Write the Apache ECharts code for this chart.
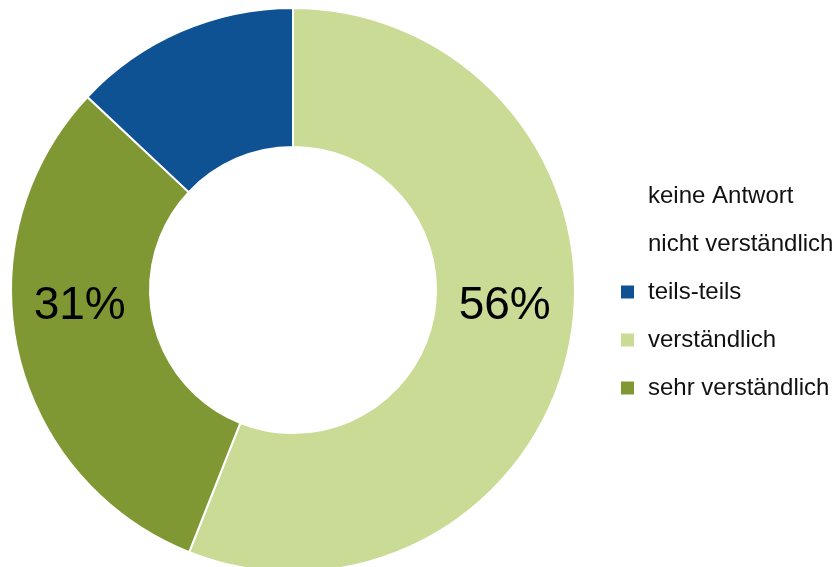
<!DOCTYPE html>
<html>
<head>
<meta charset="utf-8">
<script src="https://cdn.jsdelivr.net/npm/echarts@6/dist/echarts.min.js"></script>
<style>html,body{margin:0;padding:0;background:#fff;}#c{width:836px;height:567px;}</style>
</head>
<body>
<div id="c"></div>
<script>
const categories = ['verständlich', 'sehr verständlich', 'teils-teils', 'keine Antwort', 'nicht verständlich'];
const values = [56, 31, 13, 0, 0];
const colors = ['#c9db94', '#7f9834', '#0f5294', '#ffffff', '#ffffff'];
const showLabel = [true, true, false, false, false];
const legendOrder = ['keine Antwort', 'nicht verständlich', 'teils-teils', 'verständlich', 'sehr verständlich'];

const labelOffsets = [[0, -24], [-3, -31], [0, 0], [0, 0], [0, 0]];

const chart = echarts.init(document.getElementById('c'));
chart.setOption({
  animation: false,
  legend: {
    orient: 'vertical',
    left: 614,
    top: 179,
    icon: 'rect',
    itemWidth: 15,
    itemHeight: 15,
    itemGap: 24,
    data: legendOrder,
    textStyle: { fontFamily: 'Liberation Sans, Arial, sans-serif', fontSize: 24, color: '#111', lineHeight: 24, padding: [0, 0, 0, 8] }
  },
  series: [{
    type: 'pie',
    center: [293, 290],
    radius: [143, 282],
    startAngle: 90,
    clockwise: true,
    avoidLabelOverlap: false,
    itemStyle: { borderColor: '#fff', borderWidth: 2 },
    label: {
      position: 'inside',
      formatter: '{c}%',
      fontFamily: 'Liberation Sans, Arial, sans-serif',
      fontSize: 46,
      color: '#000'
    },
    labelLine: { show: false },
    emphasis: { disabled: true },
    data: categories.map((n, i) => ({
      name: n,
      value: values[i],
      itemStyle: { color: colors[i] },
      label: { show: showLabel[i], offset: labelOffsets[i] }
    }))
  }]
});
</script>
</body>
</html>
